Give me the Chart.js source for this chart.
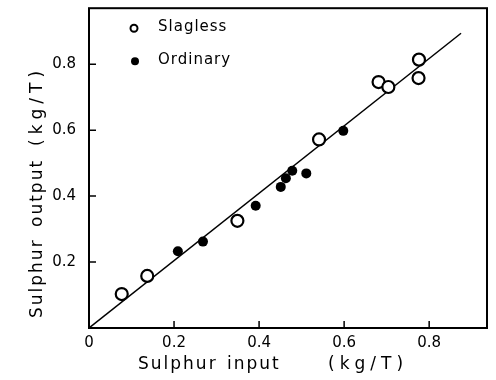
<!DOCTYPE html>
<html>
<head>
<meta charset="utf-8">
<script src="https://cdn.jsdelivr.net/npm/chart.js@4"></script>
<style>
html,body{margin:0;padding:0;background:#fff;}
#wrap{width:496px;height:380px;position:relative;}
</style>
</head>
<body>
<div id="wrap"><canvas id="c" width="496" height="380"></canvas></div>
<script>
// ---- data ----
const slaglessInput  = [0.077, 0.137, 0.349, 0.541, 0.681, 0.704, 0.776, 0.775];
const slaglessOutput = [0.103, 0.158, 0.325, 0.572, 0.746, 0.731, 0.814, 0.758];
const ordinaryInput  = [0.209, 0.268, 0.392, 0.451, 0.463, 0.478, 0.511, 0.598];
const ordinaryOutput = [0.233, 0.262, 0.371, 0.428, 0.454, 0.477, 0.469, 0.598];
const fitInput  = [0, 0.875];
const fitOutput = [0, 0.894];
const xTickValues = [0, 0.2, 0.4, 0.6, 0.8];
const xTickLabels = ['0', '0.2', '0.4', '0.6', '0.8'];
const yTickValues = [0.2, 0.4, 0.6, 0.8];
const yTickLabels = ['0.2', '0.4', '0.6', '0.8'];
const seriesNames = ['Slagless', 'Ordinary'];
const xTitleParts = ['Sulphur', 'input', '(kg/T)'];
const yTitleParts = ['Sulphur', 'output', '(kg/T)'];

const toPts = (xs, ys) => xs.map((x, i) => ({x: x, y: ys[i]}));
const FONT = '"DejaVu Sans", sans-serif';

const framePlugin = {
  id: 'frame',
  afterDraw(chart) {
    const ctx = chart.ctx, a = chart.chartArea;
    const xs = chart.scales.x, ys = chart.scales.y;
    ctx.save();
    ctx.strokeStyle = '#000';
    ctx.lineWidth = 2;
    ctx.strokeRect(a.left, a.top, a.right - a.left, a.bottom - a.top);
    // inward ticks
    ctx.lineWidth = 1.5;
    ctx.beginPath();
    xTickValues.forEach(v => {
      if (v === 0) return;
      const px = xs.getPixelForValue(v);
      ctx.moveTo(px, a.bottom); ctx.lineTo(px, a.bottom - 7);
    });
    yTickValues.forEach(v => {
      const py = ys.getPixelForValue(v);
      ctx.moveTo(a.left, py); ctx.lineTo(a.left + 7, py);
    });
    ctx.stroke();

    // legend
    const lx = a.left + 45;
    const ds0 = chart.data.datasets[0], ds1 = chart.data.datasets[1];
    ctx.lineWidth = 2;
    ctx.beginPath(); ctx.arc(lx, a.top + 20, 3.5, 0, Math.PI * 2);
    ctx.fillStyle = '#fff'; ctx.fill(); ctx.strokeStyle = ds0.borderColor; ctx.stroke();
    ctx.beginPath(); ctx.arc(lx + 1, a.top + 53, 4, 0, Math.PI * 2);
    ctx.fillStyle = ds1.backgroundColor; ctx.fill();
    ctx.fillStyle = '#000';
    ctx.font = '15px ' + FONT;
    ctx.textBaseline = 'middle';
    ctx.textAlign = 'left';
    if ('letterSpacing' in ctx) ctx.letterSpacing = '1px';
    ctx.fillText(seriesNames[0], lx + 24, a.top + 19);
    ctx.fillText(seriesNames[1], lx + 24, a.top + 52);

    // x title
    ctx.font = '17px ' + FONT;
    if ('letterSpacing' in ctx) ctx.letterSpacing = '2px';
    const ty = a.bottom + 37;
    ctx.fillText(xTitleParts[0], a.left + 49, ty);
    ctx.fillText(xTitleParts[1], a.left + 138, ty);
    if ('letterSpacing' in ctx) ctx.letterSpacing = '5px';
    ctx.fillText(xTitleParts[2], a.left + 239, ty);

    // y title (rotated)
    ctx.save();
    ctx.translate(38, a.bottom - 10);
    ctx.rotate(-Math.PI / 2);
    if ('letterSpacing' in ctx) ctx.letterSpacing = '2px';
    ctx.fillText(yTitleParts[0], 0, 0);
    ctx.fillText(yTitleParts[1], 91, 0);
    if ('letterSpacing' in ctx) ctx.letterSpacing = '5px';
    ctx.fillText(yTitleParts[2], 172, 0);
    ctx.restore();
    ctx.restore();
  }
};

new Chart(document.getElementById('c'), {
  type: 'scatter',
  data: {
    datasets: [
      {
        label: seriesNames[0],
        data: toPts(slaglessInput, slaglessOutput),
        backgroundColor: '#fff',
        borderColor: '#000',
        borderWidth: 2.2,
        pointRadius: 6,
        order: 1
      },
      {
        label: seriesNames[1],
        data: toPts(ordinaryInput, ordinaryOutput),
        backgroundColor: '#000',
        borderColor: '#000',
        borderWidth: 0,
        pointRadius: 5,
        order: 2
      },
      {
        type: 'line',
        label: 'fit',
        data: toPts(fitInput, fitOutput),
        borderColor: '#000',
        borderWidth: 1.5,
        pointRadius: 0,
        fill: false,
        order: 3
      }
    ]
  },
  options: {
    responsive: false,
    animation: false,
    layout: { padding: { left: 0, top: 8, right: 9, bottom: 0 } },
    plugins: { legend: { display: false }, tooltip: { enabled: false }, title: { display: false } },
    scales: {
      x: {
        type: 'linear',
        min: 0, max: 0.936,
        grid: { display: false, drawTicks: false },
        border: { display: false },
        afterBuildTicks: s => { s.ticks = xTickValues.map(v => ({value: v})); },
        afterFit: s => { s.height = 52; s.paddingLeft = 0; s.paddingRight = 0; },
        ticks: {
          padding: 6,
          color: '#000',
          font: { family: FONT, size: 15 },
          callback: (v) => { const i = xTickValues.indexOf(v); return i >= 0 ? xTickLabels[i] : ''; }
        }
      },
      y: {
        type: 'linear',
        min: 0, max: 0.97,
        grid: { display: false, drawTicks: false },
        border: { display: false },
        afterBuildTicks: s => { s.ticks = yTickValues.map(v => ({value: v})); },
        afterFit: s => { s.width = 89; s.paddingTop = 0; s.paddingBottom = 0; },
        ticks: {
          padding: 13,
          color: '#000',
          font: { family: FONT, size: 15 },
          callback: (v) => { const i = yTickValues.indexOf(v); return i >= 0 ? yTickLabels[i] : ''; }
        }
      }
    }
  },
  plugins: [framePlugin]
});
</script>
</body>
</html>
